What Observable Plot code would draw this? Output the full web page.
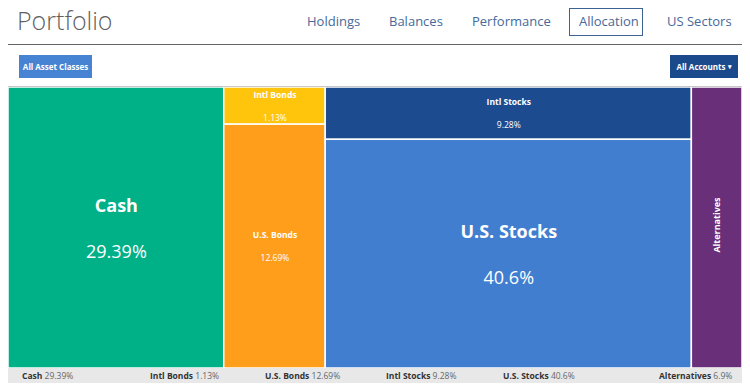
<!DOCTYPE html>
<html>
<head>
<meta charset="utf-8">
<script src="https://cdn.jsdelivr.net/npm/d3@7"></script>
<script src="https://cdn.jsdelivr.net/npm/@observablehq/plot@0.6"></script>
<style>
  html, body { margin: 0; padding: 0; background: #fff; }
  body { width: 750px; height: 385px; position: relative; overflow: hidden; font-family: "Open Sans", sans-serif; }
  .abs { position: absolute; }
  #title { left: 17px; top: 3px; font-size: 25px; font-weight: 300; color: #5f5f5f; }
  .nav { top: 12px; font-size: 13px; color: #46699a; }
  #navbox { left: 569px; top: 8px; width: 72px; height: 26px; border: 1px solid #3b6290; box-sizing: content-box; }
  #hline { left: 8px; top: 44px; width: 734px; height: 1px; background: #666; }
  .btn { top: 55px; height: 23px; color: #fff; font-size: 8px; font-weight: 700; display: flex; align-items: center; justify-content: center; }
  #chart { left: 8px; top: 86px; width: 734px; height: 281px; border-top: 1px solid #c8c8c8; }
  #legend { left: 8px; top: 368px; width: 734px; height: 15px; background: #e8e8e8; }
  .leg { top: 369px; font-size: 8.5px; color: #666; white-space: nowrap; line-height: 13px; }
  .leg b { color: #333; }
</style>
</head>
<body>
<div id="title" class="abs">Portfolio</div>
<div id="nav"></div>
<div id="navbox" class="abs"></div>
<div id="hline" class="abs"></div>
<div class="abs btn" style="left:19px;width:73px;background:#4683d2;">All Asset Classes</div>
<div class="abs btn" style="left:670px;width:68px;background:#1b4a8c;">All Accounts&nbsp;<span style="font-size:7px">&#9662;</span></div>
<div id="chart" class="abs"></div>
<div id="legend" class="abs"></div>
<script>
// ---- data ----
const navItems = ["Holdings", "Balances", "Performance", "Allocation", "US Sectors"];
const categories = ["Cash", "Intl Bonds", "U.S. Bonds", "Intl Stocks", "U.S. Stocks", "Alternatives"];
const groups = ["Cash", "Bonds", "Bonds", "Stocks", "Stocks", "Alternatives"];
const values = [29.39, 1.13, 12.69, 9.28, 40.6, 6.9];
const valueLabels = ["29.39%", "1.13%", "12.69%", "9.28%", "40.6%", "6.9%"];
const colors = ["#00b087", "#ffc40c", "#ff9e1b", "#1c4b8f", "#417ed0", "#692f79"];

// ---- nav ----
const navLeft = [307, 389, 472, 579, 667];
const nav = document.getElementById("nav");
navItems.forEach((t, i) => {
  const d = document.createElement("div");
  d.className = "abs nav";
  d.style.left = navLeft[i] + "px";
  d.textContent = t;
  nav.appendChild(d);
});

// ---- treemap layout ----
const W = 734, H = 281;
const groupNames = [...new Set(groups)];
const rootData = {
  name: "root",
  children: groupNames.map(g => ({
    name: g,
    children: categories.map((c, i) => ({name: c, value: values[i], i})).filter((d) => groups[d.i] === g)
  }))
};
const minShare = 0.14;
function tile(node, x0, y0, x1, y1) {
  if (node.depth === 0) {
    d3.treemapDice(node, x0, y0, x1, y1);
  } else {
    const kids = node.children;
    const shares = kids.map(k => Math.max(k.value / node.value, kids.length > 1 ? minShare : 0));
    const tot = d3.sum(shares);
    let y = y0;
    kids.forEach((k, j) => {
      k.x0 = x0; k.x1 = x1; k.y0 = y;
      y += (y1 - y0) * shares[j] / tot;
      k.y1 = y;
    });
  }
}
const root = d3.hierarchy(rootData).sum(d => d.children ? 0 : d.value);
d3.treemap().tile(tile).size([1, 1])(root);
const leaves = root.leaves().map(l => ({
  name: l.data.name,
  label: valueLabels[l.data.i],
  color: colors[l.data.i],
  x0: l.x0, x1: l.x1, y0: l.y0, y1: l.y1,
  cx: (l.x0 + l.x1) / 2, cy: (l.y0 + l.y1) / 2,
  w: (l.x1 - l.x0) * W,
  h: (l.y1 - l.y0) * H
}));
const big = leaves.filter(d => d.w > 200 && d.h > 120);
const small = leaves.filter(d => d.w > 70 && !(d.w > 200 && d.h > 120));
const narrow = leaves.filter(d => d.w <= 70);

const plot = Plot.plot({
  width: W, height: H,
  margin: 0,
  x: {domain: [0, 1], range: [0, W], axis: null},
  y: {domain: [0, 1], range: [0, H], axis: null},
  style: {fontFamily: "'Open Sans', sans-serif", background: "transparent"},
  marks: [
    Plot.rect(leaves, {x1: "x0", x2: "x1", y1: "y0", y2: "y1", fill: "color", stroke: "#fff", strokeWidth: 1.5}),
    Plot.text(big, {x: "cx", y: "cy", text: "name", fill: "#fff", fontSize: 18, fontWeight: 700, dy: -22}),
    Plot.text(big, {x: "cx", y: "cy", text: "label", fill: "#fff", fontSize: 18, dy: 24}),
    Plot.text(small, {x: "cx", y: "cy", text: "name", fill: "#fff", fontSize: 8.5, fontWeight: 700, dy: -11}),
    Plot.text(small, {x: "cx", y: "cy", text: "label", fill: "#fff", fontSize: 8.5, dy: 12}),
    Plot.text(narrow, {x: "cx", y: "cy", text: "name", fill: "#fff", fontSize: 9, fontWeight: 700, rotate: -90, dy: -3})
  ]
});
document.getElementById("chart").appendChild(plot);

// ---- legend ----
const legLeft = [22, 150, 265, 386, 503, 659];
categories.forEach((c, i) => {
  const d = document.createElement("div");
  d.className = "abs leg";
  d.style.left = legLeft[i] + "px";
  d.innerHTML = "<b>" + c + "</b> " + valueLabels[i];
  document.body.appendChild(d);
});
</script>
</body>
</html>
